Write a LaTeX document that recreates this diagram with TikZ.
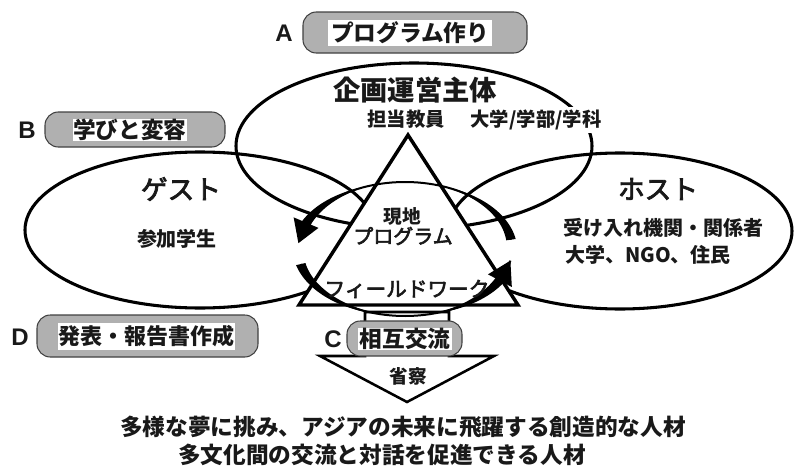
\documentclass[tikz,border=0pt]{standalone}
\usepackage{fontspec}
\setmainfont{Noto Sans CJK JP}
\newfontfamily\jpmed[FakeBold=3]{Noto Sans CJK JP}
\newfontfamily\latf{Liberation Sans}
\newcommand{\fsz}[1]{\fontsize{#1pt}{#1pt}\selectfont}
\def\rcx{405}\def\rcy{249}\def\rrx{107}\def\rry{67}
\newcommand{\ringband}[4]{%
\fill plot[domain=0:1,samples=30] ({\rcx+(\rrx+#3+(#4-#3)*\x)*cos(#1+(#2-#1)*\x)},{\rcy-(\rry+#3+(#4-#3)*\x)*sin(#1+(#2-#1)*\x)})
 -- plot[domain=0:1,samples=30] ({\rcx+(\rrx-#4+(#4-#3)*\x)*cos(#2+(#1-#2)*\x)},{\rcy-(\rry-#4+(#4-#3)*\x)*sin(#2+(#1-#2)*\x)}) -- cycle;}
\newcommand{\ringhead}[2]{%
\fill ({\rcx+(\rrx+14)*cos(#1)},{\rcy-(\rry+14)*sin(#1)}) -- ({\rcx+\rrx*cos(#2)},{\rcy-\rry*sin(#2)}) -- ({\rcx+(\rrx-13)*cos(#1)},{\rcy-(\rry-13)*sin(#1)}) -- cycle;}
\tikzset{
  oval/.style={draw=black, line width=2.3pt},
  pill/.style={draw=black!75, fill=black!31, line width=0.8pt, rounded corners=10pt, inner sep=0pt},
  pilltext/.style={fill=white, inner sep=0pt, font=\bfseries\fsz{17}, text=black!90},
  letter/.style={font=\latf\bfseries\fsz{18}, text=black!90, inner sep=0pt},
  bt/.style={font=\bfseries\fsz{#1}, text=black!90, inner sep=0pt},
  mt/.style={font=\jpmed\fsz{#1}, text=black!90, inner sep=0pt}
}
\begin{document}
\begin{tikzpicture}[x=0.75pt,y=-0.75pt]
\useasboundingbox (0,0) rectangle (794,468);
% ellipses
\draw[oval] (414,146) ellipse [x radius=178, y radius=83];
\draw[oval] (200,230) ellipse [x radius=175, y radius=78];
\draw[oval] (620,231) ellipse [x radius=172, y radius=78];
% triangle
\coordinate (tA) at (408,135);
\coordinate (tB) at (518,305);
\coordinate (tC) at (299,305);
\draw[line width=2.6pt, fill=white, line join=miter] (tA) -- (tB) -- (tC) -- cycle;
% down arrow
\coordinate (d1) at (365,312);
\coordinate (d2) at (449,312);
\coordinate (d3) at (449,356);
\coordinate (d4) at (494,356);
\coordinate (d5) at (407,402);
\coordinate (d6) at (320,356);
\coordinate (d7) at (365,356);
\draw[line width=1.9pt, fill=white, line join=miter] (d1) -- (d2) -- (d3) -- (d4) -- (d5) -- (d6) -- (d7) -- cycle;
% ring
\draw[line width=1.5pt] plot[domain=8:172,samples=60] ({\rcx+\rrx*cos(\x)},{\rcy-\rry*sin(\x)});
\draw[line width=1.5pt] plot[domain=193:350,samples=60] ({\rcx+\rrx*cos(\x)},{\rcy-\rry*sin(\x)});
\ringband{115}{158}{0.4}{4.8}
\ringhead{157}{175}
\ringband{193}{252}{4.8}{0.4}
\ringband{290}{333}{0.4}{4.8}
\ringhead{332}{350}
\ringband{8}{64}{4.8}{0.4}
% pills
\node[pill, minimum width=224*0.75pt, minimum height=41*0.75pt] (pA) at (415,32.5) {};
\node[pilltext, minimum width=164*0.75pt, minimum height=26*0.75pt] (tAp) at (410,33) {プログラム作り};
\node[pill, minimum width=180*0.75pt, minimum height=35*0.75pt] (pB) at (135,129.5) {};
\node[pilltext, minimum width=114*0.75pt, minimum height=21*0.75pt] (tBp) at (130,130) {学びと変容};
\node[pill, minimum width=115*0.75pt, minimum height=35*0.75pt] (pC) at (404.5,338.5) {};
\node[pilltext, minimum width=94*0.75pt, minimum height=22*0.75pt] (tCp) at (405,339) {相互交流};
\node[pill, minimum width=221*0.75pt, minimum height=42*0.75pt] (pD) at (147.5,336) {};
\node[pilltext, font=\bfseries\fsz{16.5}, minimum width=177*0.75pt, minimum height=27*0.75pt] (tDp) at (146.5,336.5) {発表・報告書作成};
% letters
\node[letter] (lA) at (284,33) {A};
\node[letter] (lB) at (27,130) {B};
\node[letter] (lC) at (333,339) {C};
\node[letter] (lD) at (20,337) {D};
% texts
\node[bt=20.5] (org) at (415,90) {企画運営主体};
\node[bt=14.5] (tea) at (406,119) {担当教員};
\node[bt=14.5, fill=white, inner sep=2pt] (uni) at (536,120) {大学/学部/学科};
\node[mt=20] (guest) at (181,189) {ゲスト};
\node[bt=15] (stu) at (177,239) {参加学生};
\node[mt=20] (host) at (658,189) {ホスト};
\node[bt=15] (rec) at (663,228) {受け入れ機関・関係者};
\node[bt=15, anchor=west] (ngo) at (565,255) {大学、NGO、住民};
\node[bt=14] (gen) at (402,216) {現地};
\node[mt=15] (prog) at (403,236) {プログラム};
\node[mt=15.5] (fw) at (407,289) {フィールドワーク};
\node[bt=14] (sei) at (408,376) {省察};
\node[bt=17] (l1) at (403,427) {多様な夢に挑み、アジアの未来に飛躍する創造的な人材};
\node[bt=17] (l2) at (382,455) {多文化間の交流と対話を促進できる人材};
\end{tikzpicture}
\end{document}
